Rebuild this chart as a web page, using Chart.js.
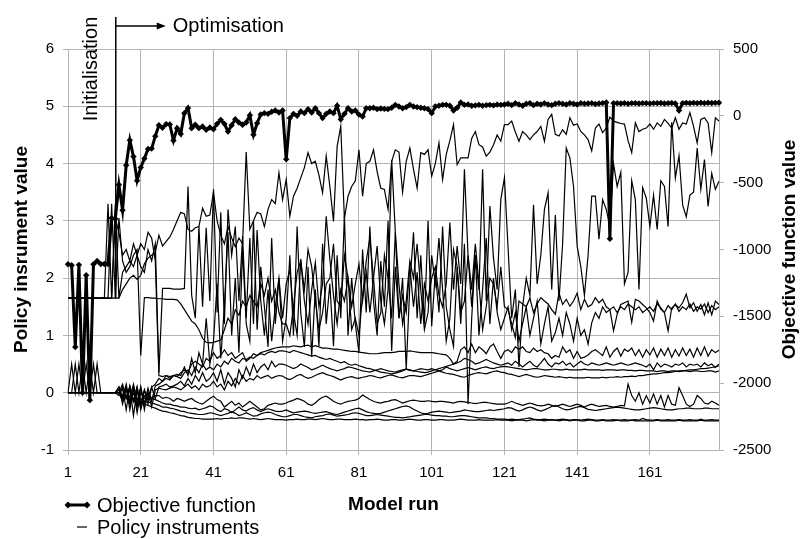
<!DOCTYPE html>
<html lang="en">
<head>
<meta charset="UTF-8">
<title>Policy instruments and objective function per model run</title>
<script src="https://cdn.jsdelivr.net/npm/chart.js"></script>
<style>
    body { margin: 0; background: #fff; }
    #wrap { width: 800px; height: 539px; position: relative; }
</style>
</head>
<body>
<div id="wrap"><canvas id="runChart" width="800" height="539"></canvas></div>
<script>
// model runs 1..180 (category axis), labelled every 20 runs
const runs = [];
for (let i = 1; i <= 180; i++) runs.push(String(i));
const labelledRuns = ['1', '21', '41', '61', '81', '101', '121', '141', '161'];
const optimisationStartRun = '14';

// objective function value (right axis)
const objectiveFunction = [
    -1110,-1118,-1729,-1115,-2071,-1193,-2127,-1110,-1086,-1108,
    -1108,-1108,-765,-770,-516,-706,-370,-182,-305,-485,
    -386,-320,-248,-245,-152,-70,-90,-62,-65,-185,
    -92,-135,20,58,-92,-67,-92,-80,-105,-87,
    -100,-60,-30,-60,-117,-70,-25,-50,-67,-50,
    5,-142,-55,10,20,15,30,40,25,40,
    -325,-17,15,0,32,20,50,25,57,20,
    -17,15,32,20,75,-25,15,57,32,40,
    10,-5,57,57,60,50,55,52,50,60,
    82,70,57,65,82,70,65,60,57,50,
    20,70,75,82,82,75,40,60,100,82,
    85,75,78,82,75,80,82,78,85,82,
    85,90,80,95,85,75,90,95,80,90,
    85,95,85,80,90,95,90,85,95,90,
    85,95,90,92,95,88,92,95,100,-920,
    95,95,92,95,90,95,95,92,95,95,
    92,95,95,96,92,95,96,92,40,95,
    97,95,97,95,98,95,98,96,97,98
];

// policy instrument values (left axis)
const instrument1 = [
    1.65,1.65,1.65,1.65,1.65,1.65,1.65,1.65,1.65,1.65,
    1.65,1.65,1.65,1.65,1.65,1.8,1.9,2.0,2.05,1.98,
    2.05,2.25,2.35,2.4,2.45,2.75,2.56,2.64,2.72,2.85,
    3.0,3.15,3.12,2.85,2.82,2.88,2.9,3.22,3.08,3.1,
    3.5,3.0,2.75,2.6,2.9,2.7,2.55,2.7,2.6,4.2,
    2.85,3.0,3.15,3.12,2.9,3.2,3.37,3.3,3.84,3.37,
    3.72,3.08,3.43,3.57,3.75,3.93,4.19,4.0,4.04,3.8,
    3.49,4.13,3.6,2.99,4.3,4.65,3.04,3.43,3.6,3.7,
    4.24,3.43,4.0,4.04,4.24,3.86,3.57,3.55,3.2,4.04,
    4.24,4.2,3.5,4.04,4.27,3.9,3.57,4.19,4.16,4.24,
    3.78,4.0,4.36,3.72,4.16,4.4,4.68,3.98,4.1,4.1,
    4.1,4.44,4.56,4.33,4.29,4.13,4.2,4.33,4.5,4.39,
    4.68,4.68,4.74,4.55,4.39,4.56,4.5,4.42,4.5,4.56,
    4.65,4.39,4.77,4.86,4.51,4.48,4.59,4.51,4.8,4.67,
    4.69,4.56,4.5,4.42,4.22,4.62,4.69,4.54,4.62,4.81,
    4.74,4.72,4.7,4.69,4.4,4.19,4.71,4.56,4.6,4.62,
    4.69,4.6,4.71,4.65,4.77,4.7,4.62,4.8,4.6,4.71,
    4.69,4.89,4.65,4.36,4.77,4.8,4.71,4.19,4.8,4.74
];
const instrument2 = [
    1.65,1.65,1.65,1.65,1.65,1.65,1.65,1.65,1.65,1.65,
    1.65,3.3,1.65,3.05,2.8,2.4,2.5,2.3,2.6,2.4,
    2.2,2.1,2.5,2.3,2.6,0.35,1.82,1.82,1.82,1.81,
    1.81,1.81,1.82,3.6,1.7,1.3,2.9,1.5,2.88,1.6,
    3.55,1.4,3.15,1.2,3.2,2.4,2.9,1.6,2.73,1.3,
    2.7,1.2,2.84,1.6,1.0,1.8,0.9,1.5,2.0,1.3,
    1.9,2.15,1.4,1.0,2.33,1.6,1.2,1.8,2.27,1.5,
    1.9,3.08,2.33,1.7,1.2,1.8,1.6,2.0,1.5,1.9,
    2.25,1.6,2.1,1.4,2.0,2.56,1.6,1.2,1.8,4.06,
    2.8,1.3,1.7,1.4,2.2,1.5,2.1,1.2,1.9,1.6,
    2.0,2.2,1.7,1.5,1.9,2.97,1.8,2.56,1.9,3.9,
    2.4,1.5,2.4,1.8,3.9,1.6,3.26,2.35,1.8,3.37,
    3.75,2.53,1.3,1.8,0.45,1.5,2.0,1.7,3.28,1.9,
    2.4,3.2,3.49,1.8,3.1,1.6,2.6,4.27,4.1,3.6,
    2.56,2.2,1.7,2.4,3.43,3.43,2.68,3.37,3.2,2.9,
    4.0,3.6,3.85,1.9,2.1,3.7,3.37,1.8,3.58,3.4,
    2.9,3.45,2.85,3.7,3.6,2.9,4.72,3.75,4.14,3.28,
    3.07,3.45,3.5,4.27,3.55,4.07,3.25,3.83,3.55,3.69
];
const instrument3 = [
    1.65,1.65,1.65,1.65,1.65,1.65,1.65,1.65,1.65,1.65,
    1.65,1.65,3.3,1.65,3.05,2.3,2.1,2.2,2.4,2.5,
    0.65,1.66,1.66,1.65,1.65,1.64,1.64,1.63,1.63,1.63,
    1.62,1.55,1.45,1.35,1.25,1.2,1.1,0.95,0.88,0.87,
    0.88,0.9,0.92,1.1,1.3,1.2,1.45,1.35,1.6,1.5,
    1.7,1.6,1.5,1.9,1.7,2.0,1.6,1.8,1.4,1.2,
    1.2,1.0,1.5,2.1,2.3,1.8,2.5,2.2,1.6,1.1,
    1.4,1.9,2.0,2.6,1.6,1.5,2.4,2.0,1.1,1.3,
    1.0,1.7,2.3,2.7,2.0,1.2,1.4,2.4,2.0,1.3,
    2.8,1.9,1.2,1.6,2.3,2.0,2.6,1.8,1.1,1.4,
    2.4,1.9,2.7,1.8,0.9,1.3,2.5,2.2,1.4,1.6,
    2.4,1.8,2.6,1.9,1.1,1.5,2.0,1.9,1.5,2.2,
    1.5,1.45,1.2,0.96,1.6,1.55,1.5,1.65,1.4,1.55,
    1.66,1.6,1.55,1.45,1.37,1.74,1.54,1.63,1.51,1.6,
    1.74,1.45,1.63,1.5,1.54,1.66,1.57,1.63,1.5,1.45,
    1.08,1.37,1.54,1.57,1.6,1.23,1.63,1.6,1.54,1.48,
    1.4,1.25,1.6,1.46,1.4,1.08,1.48,1.54,1.48,1.57,
    1.72,1.48,1.57,1.42,1.54,1.36,1.57,1.36,1.6,1.54
];
const instrument4 = [
    1.65,1.65,1.65,1.65,1.65,1.65,1.65,1.65,1.65,1.65,
    1.65,1.65,1.65,3.3,1.65,2.1,2.2,2.3,2.2,2.4,
    2.6,2.5,2.8,2.7,2.3,0.3,0.28,0.3,0.28,0.3,
    0.32,0.3,0.45,0.3,0.6,0.35,0.7,0.5,1.3,0.5,
    0.9,1.9,0.6,1.5,2.8,1.0,2.0,0.7,2.5,1.2,
    0.9,3.0,1.1,2.2,1.5,0.8,2.7,1.2,2.0,0.9,
    1.3,2.4,1.0,2.9,1.4,0.8,2.2,0.63,1.8,0.81,
    2.6,1.2,1.9,0.81,2.4,1.3,3.1,1.0,2.0,1.2,
    0.7,2.5,1.4,2.9,1.6,1.0,2.3,1.5,3.0,0.73,
    2.2,1.3,2.0,0.41,1.9,2.8,1.3,2.4,1.2,3.0,
    1.16,2.1,1.4,2.9,1.5,1.1,0.81,2.2,1.2,2.6,
    -0.2,1.3,2.4,1.0,1.8,2.7,1.2,2.0,1.4,1.1,
    1.3,1.5,1.1,1.4,0.9,1.2,1.5,1.0,1.3,1.6,
    0.85,1.2,1.5,0.9,1.05,1.3,1.0,1.4,1.2,0.9,
    1.3,1.0,1.1,0.85,1.22,1.4,1.3,1.5,1.4,1.45,
    1.5,1.4,1.5,1.45,1.55,1.5,1.45,1.5,1.4,1.45,
    1.5,1.42,1.55,1.48,1.4,1.52,1.45,1.55,1.42,1.5,
    1.45,1.55,1.42,1.5,1.46,1.55,1.4,1.52,1.45,1.5
];
const instrument5 = [
    0,0.5,0,0.5,0,0.5,0,0.5,0,0,
    0,0,0,0,0,0.05,-0.1,0.1,-0.15,0.1,
    -0.2,0.05,-0.1,0.1,0.15,0.25,0.2,0.3,0.25,0.3,
    0.28,0.35,0.4,0.35,0.5,0.55,0.5,0.45,0.6,0.55,
    0.7,0.6,0.65,0.75,0.65,0.7,0.6,0.65,0.7,0.55,
    0.6,0.68,0.65,0.7,0.72,0.74,0.76,0.78,0.79,0.8,
    0.8,0.8,0.82,0.81,0.8,0.82,0.83,0.8,0.82,0.8,
    0.78,0.78,0.77,0.76,0.76,0.75,0.74,0.73,0.72,0.72,
    0.71,0.7,0.69,0.68,0.68,0.68,0.69,0.7,0.7,0.7,
    0.71,0.72,0.72,0.72,0.73,0.72,0.71,0.7,0.7,0.7,
    0.7,0.69,0.68,0.67,0.66,0.6,0.5,0.55,0.75,0.8,
    0.7,0.85,0.7,0.8,0.75,0.68,0.8,0.85,0.72,0.6,
    0.72,0.75,0.7,0.8,0.76,0.8,0.72,0.7,0.78,0.72,
    0.75,0.7,0.68,0.6,0.65,0.62,0.8,0.7,0.75,0.6,
    0.72,0.6,0.62,0.66,0.72,0.75,0.7,0.65,0.8,0.62,
    0.72,0.78,0.64,0.76,0.72,0.78,0.65,0.75,0.62,0.75,
    0.66,0.78,0.62,0.76,0.65,0.78,0.62,0.75,0.64,0.78,
    0.65,0.76,0.62,0.78,0.65,0.8,0.64,0.75,0.7,0.74
];
const instrument6 = [
    0,0,0.5,0,0.5,0,0.5,0,0.5,0,
    0,0,0,0,0.05,-0.05,0.1,-0.1,0.15,-0.15,
    0.1,-0.2,0.08,-0.15,0.12,0.15,0.2,0.25,0.22,0.3,
    0.28,0.25,0.35,0.4,0.3,0.45,0.35,0.5,0.4,0.45,
    0.4,0.5,0.45,0.55,0.5,0.6,0.55,0.52,0.6,0.58,
    0.62,0.6,0.65,0.68,0.66,0.7,0.72,0.7,0.73,0.73,
    0.72,0.7,0.74,0.72,0.7,0.68,0.66,0.64,0.65,0.62,
    0.6,0.58,0.6,0.57,0.55,0.52,0.54,0.5,0.48,0.5,
    0.47,0.45,0.43,0.42,0.4,0.38,0.36,0.35,0.34,0.33,
    0.34,0.36,0.38,0.41,0.4,0.38,0.37,0.36,0.35,0.36,
    0.38,0.4,0.42,0.44,0.46,0.48,0.5,0.52,0.55,0.6,
    0.58,0.55,0.5,0.52,0.55,0.58,0.55,0.52,0.5,0.48,
    0.5,0.52,0.48,0.55,0.5,0.45,0.5,0.55,0.48,0.45,
    0.52,0.6,0.5,0.45,0.52,0.5,0.55,0.48,0.52,0.45,
    0.5,0.55,0.5,0.48,0.52,0.5,0.48,0.5,0.52,0.5,
    0.48,0.5,0.52,0.5,0.48,0.5,0.52,0.5,0.48,0.45,
    0.5,0.4,0.52,0.45,0.5,0.48,0.45,0.5,0.48,0.52,
    0.45,0.5,0.48,0.5,0.45,0.52,0.47,0.5,0.44,0.5
];
const instrument7 = [
    0,0,0,0,0,0,0,0,0,0,
    0,0,0,0,0.0,0.15,-0.1,0.12,-0.15,0.1,
    -0.25,0.05,-0.2,0.1,-0.1,0.1,0.12,0.15,0.1,0.12,
    0.15,0.2,0.12,0.25,0.15,0.3,0.2,0.35,0.2,0.25,
    0.35,0.2,0.4,0.15,0.35,0.25,0.1,0.4,0.25,0.45,
    0.3,0.5,0.35,0.45,0.5,0.4,0.55,0.45,0.5,0.5,
    0.48,0.45,0.42,0.45,0.5,0.47,0.44,0.4,0.42,0.45,
    0.48,0.45,0.42,0.4,0.38,0.4,0.42,0.45,0.44,0.42,
    0.4,0.38,0.37,0.36,0.38,0.4,0.42,0.4,0.38,0.37,
    0.36,0.38,0.4,0.41,0.39,0.38,0.4,0.42,0.41,0.4,
    0.42,0.4,0.38,0.4,0.45,0.42,0.4,0.38,0.4,0.42,
    0.44,0.42,0.4,0.42,0.44,0.45,0.43,0.42,0.44,0.45,
    0.46,0.45,0.44,0.43,0.42,0.41,0.4,0.41,0.42,0.42,
    0.41,0.4,0.4,0.41,0.41,0.4,0.4,0.41,0.4,0.4,
    0.4,0.4,0.41,0.4,0.4,0.4,0.4,0.39,0.4,0.4,
    0.4,0.39,0.4,0.4,0.39,0.39,0.38,0.39,0.39,0.38,
    0.38,0.38,0.37,0.38,0.38,0.37,0.38,0.38,0.37,0.38,
    0.38,0.37,0.38,0.38,0.37,0.37,0.38,0.38,0.36,0.38
];
const instrument8 = [
    0,0,0,0,0,0,0,0,0,0,
    0,0,0,0,0.1,-0.1,0.15,-0.2,0.1,-0.25,
    0.1,-0.3,0.02,-0.25,0.05,0.08,0.06,0.05,0.08,0.1,
    0.08,0.05,0.1,0.15,0.08,0.12,0.05,0.15,0.1,0.12,
    0.2,0.1,0.15,0.05,0.2,0.12,0.25,0.15,0.3,0.2,
    0.25,0.22,0.3,0.25,0.28,0.3,0.25,0.28,0.3,0.29,
    0.25,0.23,0.26,0.3,0.32,0.28,0.25,0.27,0.3,0.33,
    0.35,0.32,0.3,0.28,0.25,0.22,0.25,0.27,0.28,0.26,
    0.25,0.27,0.28,0.3,0.29,0.27,0.26,0.28,0.3,0.31,
    0.29,0.27,0.26,0.28,0.3,0.3,0.29,0.28,0.3,0.32,
    0.34,0.36,0.38,0.36,0.34,0.33,0.32,0.3,0.28,0.27,
    0.3,0.32,0.34,0.35,0.34,0.33,0.35,0.37,0.38,0.36,
    0.35,0.33,0.32,0.3,0.28,0.3,0.32,0.3,0.28,0.27,
    0.28,0.3,0.29,0.28,0.27,0.28,0.27,0.26,0.27,0.26,
    0.26,0.26,0.26,0.27,0.26,0.26,0.26,0.27,0.26,0.27,
    0.27,0.28,0.27,0.28,0.28,0.29,0.28,0.3,0.3,0.31,
    0.32,0.33,0.33,0.34,0.35,0.35,0.36,0.37,0.38,0.38,
    0.39,0.4,0.4,0.41,0.42,0.42,0.43,0.44,0.45,0.47
];
const instrument9 = [
    0,0,0,0,0,0,0,0,0,0,
    0,0,0,0,-0.05,0.1,-0.3,0.1,-0.4,0.05,
    -0.3,-0.05,-0.1,-0.08,-0.05,-0.05,-0.1,-0.08,-0.1,-0.15,
    -0.1,-0.12,-0.15,-0.12,-0.1,-0.15,-0.18,-0.2,-0.15,-0.1,
    -0.06,-0.12,-0.15,-0.25,-0.2,-0.15,-0.22,-0.18,-0.25,-0.2,
    -0.15,-0.2,-0.25,-0.3,-0.28,-0.22,-0.2,-0.18,-0.2,-0.2,
    -0.18,-0.15,-0.13,-0.1,-0.12,-0.15,-0.2,-0.22,-0.18,-0.12,
    -0.08,-0.06,-0.1,-0.15,-0.18,-0.2,-0.17,-0.15,-0.14,-0.13,
    -0.1,-0.04,-0.08,-0.12,-0.15,-0.17,-0.18,-0.16,-0.15,-0.13,
    -0.12,-0.15,-0.18,-0.16,-0.14,-0.13,-0.14,-0.15,-0.15,-0.14,
    -0.15,-0.16,-0.15,-0.15,-0.16,-0.17,-0.18,-0.16,-0.15,-0.16,
    -0.17,-0.18,-0.19,-0.18,-0.17,-0.17,-0.18,-0.19,-0.2,-0.2,
    -0.2,-0.18,-0.15,-0.18,-0.2,-0.22,-0.2,-0.18,-0.2,-0.22,
    -0.23,-0.22,-0.2,-0.22,-0.24,-0.22,-0.2,-0.22,-0.24,-0.22,
    -0.2,-0.22,-0.25,-0.22,-0.2,-0.22,-0.24,-0.23,-0.22,-0.24,
    -0.25,-0.24,-0.22,-0.23,0.15,-0.05,-0.15,0.0,-0.2,-0.05,
    -0.18,-0.02,-0.2,-0.05,-0.25,-0.05,-0.2,-0.22,0.09,-0.05,
    -0.2,-0.24,-0.2,-0.05,-0.1,-0.18,-0.2,-0.15,-0.18,-0.22
];
const instrument10 = [
    0,0,0,0,0,0,0,0,0,0,
    0,0,0,0,0.1,-0.2,0.1,-0.3,0.05,-0.35,
    0.0,-0.1,-0.12,-0.1,-0.12,-0.15,-0.18,-0.2,-0.2,-0.22,
    -0.23,-0.25,-0.25,-0.27,-0.28,-0.27,-0.3,-0.28,-0.26,-0.23,
    -0.25,-0.3,-0.33,-0.28,-0.3,-0.35,-0.3,-0.25,-0.3,-0.32,
    -0.28,-0.26,-0.3,-0.33,-0.3,-0.28,-0.3,-0.32,-0.33,-0.32,
    -0.3,-0.33,-0.35,-0.34,-0.33,-0.32,-0.33,-0.35,-0.36,-0.35,
    -0.34,-0.33,-0.35,-0.37,-0.38,-0.36,-0.34,-0.32,-0.3,-0.28,
    -0.27,-0.3,-0.33,-0.35,-0.36,-0.37,-0.36,-0.34,-0.32,-0.3,
    -0.28,-0.26,-0.24,-0.23,-0.25,-0.29,-0.32,-0.35,-0.37,-0.36,
    -0.34,-0.33,-0.32,-0.33,-0.34,-0.35,-0.34,-0.33,-0.32,-0.3,
    -0.31,-0.32,-0.33,-0.33,-0.32,-0.31,-0.3,-0.31,-0.3,-0.29,
    -0.28,-0.26,-0.27,-0.3,-0.32,-0.3,-0.27,-0.25,-0.27,-0.3,
    -0.32,-0.3,-0.27,-0.24,-0.22,-0.25,-0.28,-0.3,-0.29,-0.27,
    -0.25,-0.24,-0.26,-0.29,-0.3,-0.31,-0.3,-0.29,-0.28,-0.27,
    -0.26,-0.25,-0.26,-0.27,-0.28,-0.29,-0.3,-0.3,-0.29,-0.28,
    -0.27,-0.26,-0.27,-0.28,-0.29,-0.3,-0.3,-0.29,-0.28,-0.28,
    -0.27,-0.27,-0.28,-0.28,-0.28,-0.27,-0.27,-0.28,-0.28,-0.28
];
const instrument11 = [
    0,0,0,0,0,0,0,0,0,0,
    0,0,0,0,0.05,-0.1,0.05,-0.15,0.0,-0.2,
    -0.1,-0.15,-0.16,-0.18,-0.2,-0.22,-0.25,-0.25,-0.27,-0.28,
    -0.3,-0.32,-0.33,-0.35,-0.36,-0.37,-0.38,-0.38,-0.37,-0.35,
    -0.36,-0.38,-0.4,-0.38,-0.36,-0.33,-0.36,-0.4,-0.38,-0.35,
    -0.38,-0.41,-0.4,-0.37,-0.35,-0.34,-0.35,-0.38,-0.4,-0.42,
    -0.42,-0.4,-0.38,-0.38,-0.4,-0.42,-0.43,-0.44,-0.42,-0.41,
    -0.4,-0.38,-0.37,-0.39,-0.41,-0.4,-0.39,-0.38,-0.36,-0.35,
    -0.36,-0.38,-0.4,-0.4,-0.39,-0.38,-0.39,-0.4,-0.41,-0.42,
    -0.43,-0.43,-0.44,-0.43,-0.42,-0.41,-0.4,-0.39,-0.38,-0.38,
    -0.39,-0.4,-0.4,-0.41,-0.41,-0.42,-0.42,-0.41,-0.4,-0.4,
    -0.41,-0.42,-0.43,-0.44,-0.44,-0.44,-0.45,-0.45,-0.46,-0.46,
    -0.46,-0.47,-0.46,-0.47,-0.47,-0.46,-0.45,-0.44,-0.46,-0.47,
    -0.47,-0.46,-0.47,-0.47,-0.48,-0.47,-0.46,-0.47,-0.48,-0.47,
    -0.47,-0.48,-0.47,-0.46,-0.47,-0.48,-0.48,-0.47,-0.48,-0.48,
    -0.47,-0.48,-0.48,-0.47,-0.48,-0.48,-0.47,-0.48,-0.45,-0.47,
    -0.48,-0.48,-0.47,-0.48,-0.48,-0.47,-0.48,-0.48,-0.47,-0.48,
    -0.48,-0.47,-0.48,-0.48,-0.46,-0.48,-0.48,-0.47,-0.48,-0.48
];
const instrument12 = [
    0,0,0,0,0,0,0,0,0,0,
    0,0,0,0,0,-0.15,-0.05,-0.2,-0.1,-0.25,
    -0.15,-0.2,-0.22,-0.25,-0.27,-0.3,-0.32,-0.33,-0.35,-0.36,
    -0.38,-0.4,-0.41,-0.43,-0.44,-0.45,-0.45,-0.46,-0.46,-0.46,
    -0.46,-0.45,-0.46,-0.45,-0.45,-0.44,-0.45,-0.44,-0.44,-0.45,
    -0.46,-0.45,-0.46,-0.47,-0.46,-0.45,-0.46,-0.47,-0.47,-0.47,
    -0.48,-0.47,-0.47,-0.46,-0.47,-0.47,-0.46,-0.46,-0.47,-0.46,
    -0.45,-0.46,-0.47,-0.47,-0.46,-0.46,-0.47,-0.47,-0.47,-0.46,
    -0.47,-0.47,-0.48,-0.47,-0.47,-0.46,-0.47,-0.48,-0.48,-0.47,
    -0.47,-0.48,-0.48,-0.47,-0.46,-0.47,-0.48,-0.48,-0.47,-0.47,
    -0.48,-0.48,-0.47,-0.47,-0.48,-0.48,-0.48,-0.47,-0.46,-0.47,
    -0.48,-0.48,-0.48,-0.47,-0.48,-0.48,-0.48,-0.48,-0.47,-0.48,
    -0.48,-0.48,-0.49,-0.48,-0.48,-0.48,-0.49,-0.48,-0.47,-0.48,
    -0.48,-0.49,-0.48,-0.48,-0.48,-0.49,-0.48,-0.48,-0.49,-0.48,
    -0.48,-0.49,-0.49,-0.48,-0.48,-0.49,-0.49,-0.48,-0.49,-0.49,
    -0.49,-0.48,-0.49,-0.49,-0.49,-0.48,-0.49,-0.49,-0.49,-0.49,
    -0.49,-0.49,-0.48,-0.49,-0.49,-0.49,-0.49,-0.49,-0.48,-0.49,
    -0.49,-0.49,-0.49,-0.49,-0.48,-0.49,-0.49,-0.49,-0.49,-0.49
];

const instruments = [instrument1, instrument2, instrument3, instrument4, instrument5, instrument6,
    instrument7, instrument8, instrument9, instrument10, instrument11, instrument12];

const gridGrey = '#b3b3b3';
const font = "'Liberation Sans', Arial, sans-serif";

// objective first so it is drawn on top
const datasets = [{
    label: 'Objective function',
    data: objectiveFunction,
    yAxisID: 'y1',
    borderColor: '#000',
    borderWidth: 3,
    pointStyle: 'rectRot',
    pointRadius: 3.2,
    pointBackgroundColor: '#000',
    pointBorderColor: '#000',
    pointBorderWidth: 0,
    tension: 0
}];
instruments.forEach((vals, i) => {
    datasets.push({
        label: i === 0 ? 'Policy instruments' : 'Policy instrument ' + (i + 1),
        data: vals,
        yAxisID: 'y',
        borderColor: '#000',
        borderWidth: 1.2,
        pointRadius: 0,
        tension: 0
    });
});

// titles, legend and the phase annotation
const decorations = {
    id: 'decorations',
    afterDraw(chart) {
        const ctx = chart.ctx;
        const area = chart.chartArea;
        const xs = chart.scales.x, ys = chart.scales.y;
        ctx.save();
        ctx.fillStyle = '#000';
        ctx.strokeStyle = '#000';

        // axis titles
        ctx.font = 'bold 19px ' + font;
        ctx.textAlign = 'center';
        ctx.textBaseline = 'middle';
        ctx.fillText('Model run', (area.left + area.right) / 2, 505);
        [[22, 'Policy insrument value'], [790, 'Objective function value']].forEach(([x, t]) => {
            ctx.save();
            ctx.translate(x, (area.top + area.bottom) / 2);
            ctx.rotate(-Math.PI / 2);
            ctx.fillText(t, 0, 0);
            ctx.restore();
        });

        // phase annotation
        const xs0 = xs.getPixelForValue(runs.indexOf(optimisationStartRun)) + 0.5;
        ctx.lineWidth = 1.5;
        ctx.beginPath();
        ctx.moveTo(xs0, 17);
        ctx.lineTo(xs0, ys.getPixelForValue(1.65));
        ctx.moveTo(xs0, 26);
        ctx.lineTo(xs0 + 42, 26);
        ctx.stroke();
        ctx.beginPath();
        ctx.moveTo(xs0 + 50, 26);
        ctx.lineTo(xs0 + 41, 22.5);
        ctx.lineTo(xs0 + 41, 29.5);
        ctx.closePath();
        ctx.fill();
        ctx.font = '20px ' + font;
        ctx.textAlign = 'left';
        ctx.fillText('Optimisation', xs0 + 57, 26);
        ctx.save();
        ctx.translate(91, 69);
        ctx.rotate(-Math.PI / 2);
        ctx.textAlign = 'center';
        ctx.fillText('Initialisation', 0, 0);
        ctx.restore();

        // legend
        const diamond = (x, y, r) => {
            ctx.beginPath();
            ctx.moveTo(x, y - r); ctx.lineTo(x + r, y); ctx.lineTo(x, y + r); ctx.lineTo(x - r, y);
            ctx.closePath(); ctx.fill();
        };
        ctx.lineWidth = 3;
        ctx.beginPath(); ctx.moveTo(68, 505); ctx.lineTo(87, 505); ctx.stroke();
        diamond(68, 505, 3.5); diamond(87, 505, 3.5);
        ctx.lineWidth = 1.2;
        ctx.beginPath(); ctx.moveTo(77, 527); ctx.lineTo(87, 527); ctx.stroke();
        ctx.textAlign = 'left';
        ctx.fillText(chart.data.datasets[0].label, 97, 506);
        ctx.fillText(chart.data.datasets[1].label, 97, 528);
        ctx.restore();
    }
};

new Chart(document.getElementById('runChart'), {
    type: 'line',
    data: { labels: runs, datasets: datasets },
    options: {
        responsive: false,
        animation: false,
        layout: { padding: { top: 49, left: 0, right: 0, bottom: 0 } },
        plugins: { legend: { display: false }, tooltip: { enabled: false } },
        scales: {
            x: {
                offset: false,
                afterFit: s => { s.height = 89; },
                grid: {
                    color: c => (c.index % 20 === 0 ? gridGrey : 'rgba(0,0,0,0)'),
                    tickLength: 5
                },
                border: { color: gridGrey },
                ticks: {
                    autoSkip: false, maxRotation: 0, minRotation: 0, padding: 9,
                    color: '#000', font: { family: font, size: 15 },
                    callback: (v, i) => (labelledRuns.includes(runs[i]) ? runs[i] : '')
                }
            },
            y: {
                position: 'left',
                min: -1, max: 6,
                afterFit: s => { s.width = 68; },
                grid: { color: gridGrey, tickLength: 5 },
                border: { color: gridGrey },
                ticks: { stepSize: 1, padding: 9, color: '#000', font: { family: font, size: 15 } }
            },
            y1: {
                position: 'right',
                min: -2500, max: 500,
                afterFit: s => { s.width = 81; },
                grid: { drawOnChartArea: false, color: gridGrey, tickLength: 5 },
                border: { color: gridGrey },
                ticks: {
                    stepSize: 500, padding: 9, color: '#000', font: { family: font, size: 15 },
                    callback: v => String(v)
                }
            }
        }
    },
    plugins: [decorations]
});
</script>
</body>
</html>
